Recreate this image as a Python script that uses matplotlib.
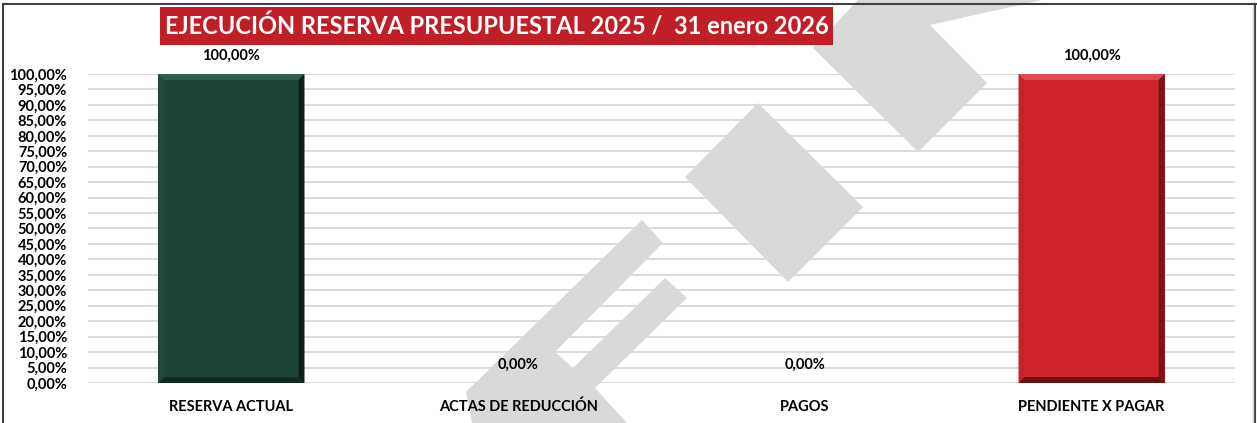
import numpy as np
import matplotlib
matplotlib.use('Agg')
from matplotlib import pyplot as plt
from matplotlib.patches import Polygon, Rectangle

plt.rcParams['font.family'] = ['Lato', 'DejaVu Sans']

# data
categories = ['RESERVA ACTUAL', 'ACTAS DE REDUCCIÓN', 'PAGOS', 'PENDIENTE X PAGAR']
values = [100.0, 0.0, 0.0, 100.0]
bar_colors = ['#1C4539', '#CF252B', '#CF252B', '#CF252B']
yticks = np.arange(0, 101, 5)
title = 'EJECUCIÓN RESERVA PRESUPUESTAL 2025 /  31 enero 2026'

W, H = 1257, 423
fig = plt.figure(figsize=(W / 100, H / 100), dpi=100)

# background layer (watermark), pixel coords
bg = fig.add_axes([0, 0, 1, 1], zorder=0)
bg.set_xlim(0, W)
bg.set_ylim(H, 0)
bg.axis('off')
wm = '#D9D9D9'
shapes = [
    [(858, 0), (813, 48), (918, 152), (987, 83), (930, 25), (1042, 0)],
    [(758, 103), (685, 177), (788, 282), (863, 207)],
    [(642, 220), (663, 243), (555, 352), (573, 368), (665, 278), (687, 298),
     (595, 388), (627, 423), (472, 423), (466, 392)],
]
for s in shapes:
    bg.add_patch(Polygon(s, closed=True, facecolor=wm, edgecolor='none'))

# main chart
ax_l, ax_r, ax_t, ax_b = 88, 1235, 74, 383
ax = fig.add_axes([ax_l / W, 1 - ax_b / H, (ax_r - ax_l) / W, (ax_b - ax_t) / H], zorder=1)
ax.set_facecolor('none')
x = np.arange(len(categories))
bars = ax.bar(x, values, width=0.51, color=bar_colors, zorder=3, linewidth=0)
ax.set_xlim(-0.5, len(categories) - 0.5)
ax.set_ylim(0, 100)
ax.set_yticks(yticks)
ax.set_yticklabels(['%d,00%%' % v for v in yticks], fontsize=10.5, fontweight='bold')
ax.set_xticks(x)
ax.set_xticklabels(categories, fontsize=10.5, fontweight='bold')
ax.tick_params(axis='both', length=0, colors='#000000')
ax.tick_params(axis='y', pad=15)
ax.tick_params(axis='x', pad=12)
ax.grid(axis='y', color='#D9D9D9', linewidth=1.3, zorder=0)
ax.set_axisbelow(True)
for sp in ax.spines.values():
    sp.set_visible(False)

# bevel on the bars
px_x = (ax_r - ax_l) / len(categories)
px_y = (ax_b - ax_t) / 100.0
bx, by = 6 / px_x, 6 / px_y
shades = {
    '#1C4539': ('#2F5D50', '#21493D', '#0B1F19', '#112B23'),
    '#CF252B': ('#E04A50', '#C72227', '#7A1418', '#6A1013'),
}
for b, c in zip(bars, bar_colors):
    h = b.get_height()
    if h <= 0:
        continue
    x0, w = b.get_x(), b.get_width()
    top, left, right, bottom = shades[c]
    x1 = x0 + w
    ax.add_patch(Polygon([(x0, h), (x1, h), (x1 - bx, h - by), (x0 + bx, h - by)], facecolor=top, edgecolor='none', zorder=4))
    ax.add_patch(Polygon([(x0, 0), (x0, h), (x0 + bx, h - by), (x0 + bx, by)], facecolor=left, edgecolor='none', zorder=4))
    ax.add_patch(Polygon([(x1, 0), (x1, h), (x1 - bx, h - by), (x1 - bx, by)], facecolor=right, edgecolor='none', zorder=4))
    ax.add_patch(Polygon([(x0, 0), (x1, 0), (x1 - bx, by), (x0 + bx, by)], facecolor=bottom, edgecolor='none', zorder=4))

# data labels
for xi, v in zip(x, values):
    ax.annotate('%d,00%%' % v, (xi, v), xytext=(0, 8),
                textcoords='offset points', ha='center', va='bottom',
                fontsize=10.5, fontweight='bold', annotation_clip=False)

# overlay: title box and border
ov = fig.add_axes([0, 0, 1, 1], zorder=3)
ov.set_xlim(0, W)
ov.set_ylim(H, 0)
ov.axis('off')
ov.add_patch(Rectangle((160, 7), 673, 38, facecolor='#C11F27', edgecolor='none'))
ov.text(497, 26.5, title, color='white', fontsize=17, fontweight='bold', ha='center', va='center')
ov.plot([3, 1256], [4, 4], color='#404040', lw=1.5)
ov.plot([3, 3], [4, H], color='#404040', lw=1.5)
ov.plot([1255, 1255], [4, H], color='#404040', lw=1.5)
ov.plot([1252.5, 1252.5], [6, H], color='#D0D0D0', lw=1)

fig.savefig('out.png', dpi=100)
